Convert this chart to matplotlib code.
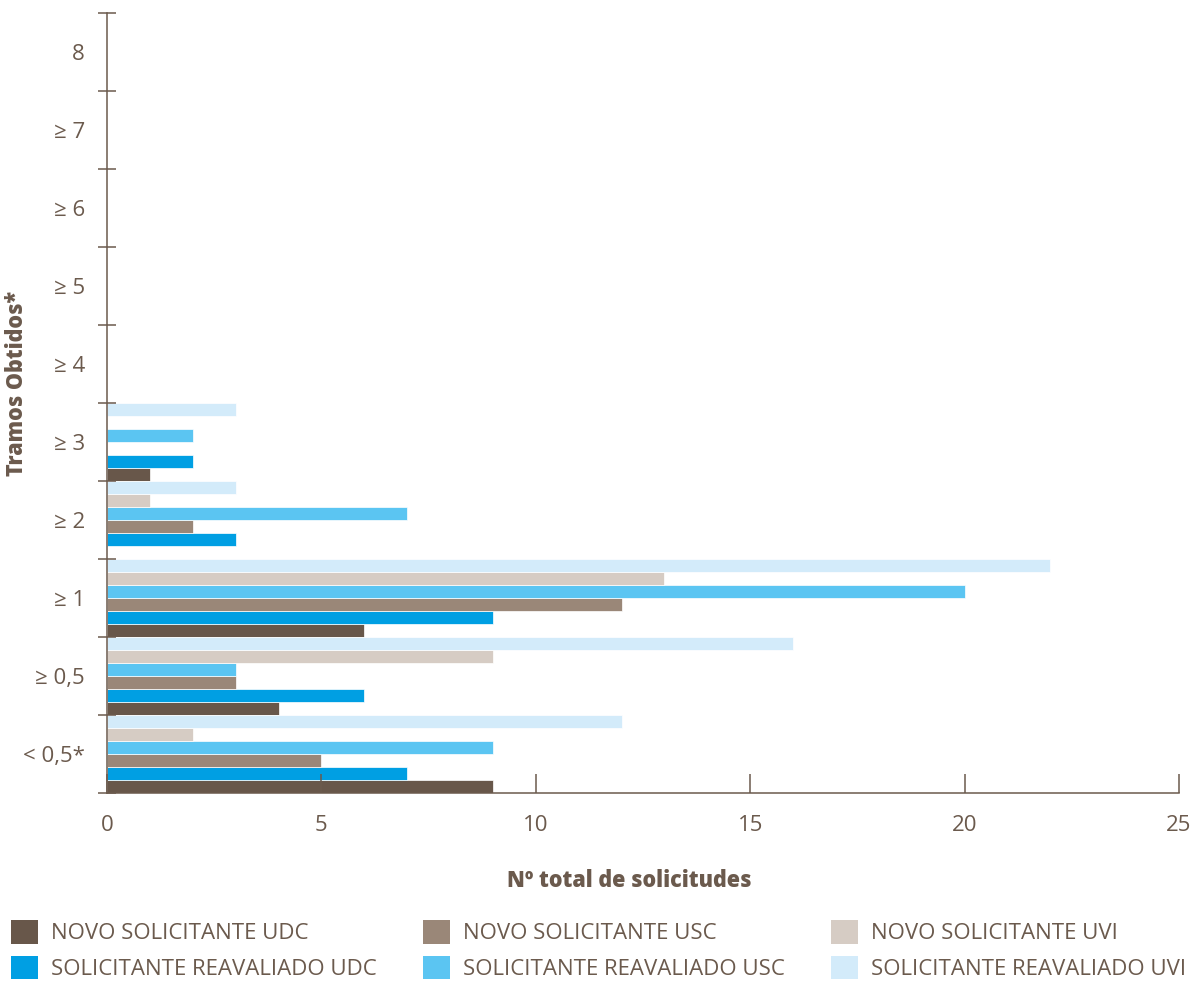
import numpy as np
import matplotlib.pyplot as plt
from matplotlib.patches import Patch

plt.rcParams['font.family'] = ['Open Sans', 'DejaVu Sans']

categories = ["< 0,5*", "≥ 0,5", "≥ 1", "≥ 2", "≥ 3", "≥ 4", "≥ 5", "≥ 6", "≥ 7", "8"]

# values per category, bottom to top
novo_udc = [9, 4, 6, 0, 1, 0, 0, 0, 0, 0]
reav_udc = [7, 6, 9, 3, 2, 0, 0, 0, 0, 0]
novo_usc = [5, 3, 12, 2, 0, 0, 0, 0, 0, 0]
reav_usc = [9, 3, 20, 7, 2, 0, 0, 0, 0, 0]
novo_uvi = [2, 9, 13, 1, 0, 0, 0, 0, 0, 0]
reav_uvi = [12, 16, 22, 3, 3, 0, 0, 0, 0, 0]

series = [
    ("NOVO SOLICITANTE UDC", novo_udc, "#68574a"),
    ("SOLICITANTE REAVALIADO UDC", reav_udc, "#009fe3"),
    ("NOVO SOLICITANTE USC", novo_usc, "#9a8778"),
    ("SOLICITANTE REAVALIADO USC", reav_usc, "#5bc5f2"),
    ("NOVO SOLICITANTE UVI", novo_uvi, "#d6ccc4"),
    ("SOLICITANTE REAVALIADO UVI", reav_uvi, "#d3ebfa"),
]

txt = "#6b5a4d"

fig = plt.figure(figsize=(11.96, 9.84), dpi=100)
ax = fig.add_axes([0.0895, 0.1941, 0.8963, 0.7927])

y = np.arange(len(categories))
h = 1 / 6
for i, (label, vals, color) in enumerate(series):
    ax.barh(y - 0.5 + (i + 0.5) * h, vals, height=h, color=color,
            edgecolor="white", linewidth=0.5, label=label)

ax.set_xlim(0, 25)
ax.set_ylim(-0.5, len(categories) - 0.5)

ax.set_xticks([0, 5, 10, 15, 20, 25])
ax.tick_params(axis="x", direction="in", length=14, width=1.1, color=txt,
               labelcolor=txt, labelsize=16, pad=16)

ax.set_yticks(np.arange(len(categories) + 1) - 0.5)
ax.set_yticklabels([])
ax.set_yticks(y, minor=True)
ax.set_yticklabels(categories, minor=True)
ax.tick_params(axis="y", which="major", direction="inout", length=13, width=1.1, color=txt)
ax.tick_params(axis="y", which="minor", length=0, labelcolor=txt, labelsize=16, pad=16)

for s in ["top", "right"]:
    ax.spines[s].set_visible(False)
for s in ["left", "bottom"]:
    ax.spines[s].set_color(txt)
    ax.spines[s].set_linewidth(1.1)

ax.set_xlabel("Nº total de solicitudes", color=txt, fontsize=15.5, fontweight="heavy")
ax.set_ylabel("Tramos Obtidos*", color=txt, fontsize=15.5, fontweight="heavy")
ax.yaxis.set_label_coords(-0.073, 0.525)
ax.xaxis.set_label_coords(0.487, -0.097)

handles = [Patch(facecolor=color, label=label) for label, vals, color in series]
fig.legend(handles=handles, ncol=3, loc="upper left", bbox_to_anchor=(-0.0075, 0.085),
           frameon=False, fontsize=16, labelcolor=txt, handlelength=1.23, handleheight=1.23,
           handletextpad=0.55, columnspacing=2.1, labelspacing=0.5, borderaxespad=0.5)

fig.savefig("out.png", dpi=100)
